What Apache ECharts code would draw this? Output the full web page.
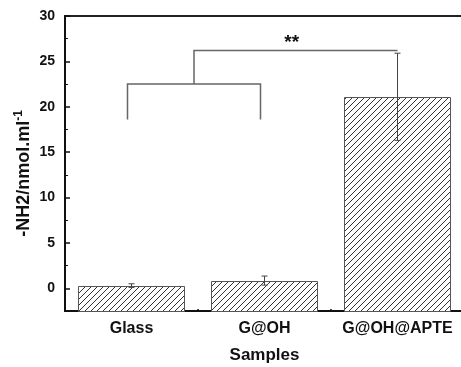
<!DOCTYPE html>
<html>
<head>
<meta charset="utf-8">
<script src="https://cdn.jsdelivr.net/npm/echarts@6/dist/echarts.min.js"></script>
<style>html,body{margin:0;padding:0;background:#fff}#c{width:461px;height:367px}</style>
</head>
<body>
<div id="c"></div>
<script>
// ---- data ----
const categories = ['Glass', 'G@OH', 'G@OH@APTE'];
const means = [0.3, 0.85, 21.1];
const errors = [0.2, 0.5, 4.8];
const yMin = -2.5, yMax = 30;
const yMajorTicks = [0, 5, 10, 15, 20, 25, 30];
const yMinorTicks = [-2.5, 2.5, 7.5, 12.5, 17.5, 22.5, 27.5];
// significance brackets: [top value, leg bottom value]
const lowerBracket = [22.5, 18.6];   // spans Glass .. G@OH
const upperBracket = [26.2];         // spans lower bracket middle .. G@OH@APTE
const sigLabel = '**';
const sigLabelValue = 27.0;

// ---- hatch pattern ----
function hatch() {
  const s = 6;
  const c = document.createElement('canvas');
  c.width = s; c.height = s;
  const g = c.getContext('2d');
  g.fillStyle = '#fff'; g.fillRect(0, 0, s, s);
  g.strokeStyle = '#333'; g.lineWidth = 1;
  g.beginPath();
  g.moveTo(0, s); g.lineTo(s, 0);
  g.moveTo(-1, 1); g.lineTo(1, -1);
  g.moveTo(s - 1, s + 1); g.lineTo(s + 1, s - 1);
  g.stroke();
  return c;
}
const hatchImg = hatch();

const barData = categories.map((c, i) => [i, means[i]]);
const errData = categories.map((c, i) => [i, means[i] - errors[i], means[i] + errors[i]]);

const chart = echarts.init(document.getElementById('c'), null, {renderer: 'canvas'});
const font = 'Liberation Sans, Arial, sans-serif';

chart.setOption({
  animation: false,
  backgroundColor: '#fff',
  grid: {left: 65, top: 16, width: 399, bottom: 56, outerBoundsMode: 'none', containLabel: false,
    show: true, borderColor: '#222', borderWidth: 2, backgroundColor: 'transparent'},
  xAxis: [{
    type: 'category',
    data: categories,
    axisLine: {onZero: false, lineStyle: {color: '#111', width: 2}},
    axisTick: {alignWithLabel: true, length: 4, lineStyle: {color: '#111', width: 1.5}},
    axisLabel: {interval: 0, hideOverlap: false, color: '#111', fontFamily: font, fontWeight: 'bold', fontSize: 16, margin: 10},
    name: 'Samples', nameLocation: 'middle', nameGap: 36,
    nameTextStyle: {color: '#111', fontFamily: font, fontWeight: 'bold', fontSize: 17}
  }, {
    type: 'category',
    data: categories,
    position: 'bottom',
    axisLine: {show: false, onZero: false},
    axisTick: {show: true, inside: true, length: 2, lineStyle: {color: '#111', width: 1.5}},
    axisLabel: {show: false}
  }],
  yAxis: [{
    type: 'value',
    min: yMin, max: yMax,
    splitLine: {show: false},
    axisLine: {show: true, lineStyle: {color: '#111', width: 2}},
    axisTick: {show: true, inside: true, length: 5, customValues: yMajorTicks, lineStyle: {color: '#111', width: 1.5}},
    axisLabel: {customValues: yMajorTicks, color: '#111', fontFamily: font, fontWeight: 'bold', fontSize: 14, margin: 10},
    name: '-NH2/nmol.ml{sup|-1}', nameLocation: 'middle', nameGap: 30, nameRotate: 90, nameMoveOverlap: false,
    nameTextStyle: {color: '#111', fontFamily: font, fontWeight: 'bold', fontSize: 18, padding: [0, 20, 0, 0],
      rich: {sup: {fontFamily: font, fontWeight: 'bold', fontSize: 12, verticalAlign: 'top', padding: [0, 0, 10, 0]}}}
  }, {
    type: 'value',
    min: yMin, max: yMax,
    position: 'left',
    splitLine: {show: false},
    axisLine: {show: false},
    axisTick: {show: true, inside: true, length: 3, customValues: yMinorTicks, lineStyle: {color: '#111', width: 1}},
    axisLabel: {show: false}
  }],
  series: [{
    type: 'custom',
    data: barData,
    z: 3,
    renderItem: function (params, api) {
      const top = api.coord([api.value(0), api.value(1)]);
      const base = api.coord([api.value(0), yMin]);
      const w = api.size([1, 0])[0] * 0.8;
      return {type: 'rect',
        shape: {x: Math.round(top[0] - w / 2) + 0.5, y: Math.round(top[1]) + 0.5, width: Math.round(w), height: Math.round(base[1] - top[1])},
        style: {fill: {image: hatchImg, repeat: 'repeat'}, stroke: '#555', lineWidth: 1}};
    }
  }, {
    type: 'custom',
    data: errData,
    z: 5,
    renderItem: function (params, api) {
      const lo = api.coord([api.value(0), api.value(1)]);
      const hi = api.coord([api.value(0), api.value(2)]);
      const w = 3;
      const st = {stroke: '#444', lineWidth: 1};
      return {type: 'group', children: [
        {type: 'line', shape: {x1: lo[0], y1: lo[1], x2: hi[0], y2: hi[1]}, style: st},
        {type: 'line', shape: {x1: lo[0] - w, y1: lo[1], x2: lo[0] + w, y2: lo[1]}, style: st},
        {type: 'line', shape: {x1: hi[0] - w, y1: hi[1], x2: hi[0] + w, y2: hi[1]}, style: st}
      ]};
    }
  }, {
    type: 'custom',
    data: [[0]],
    z: 6,
    renderItem: function (params, api) {
      const a = api.coord([0, lowerBracket[0]]);
      const b = api.coord([1, lowerBracket[0]]);
      const legB = api.coord([0, lowerBracket[1]])[1];
      const c = api.coord([2, upperBracket[0]]);
      const lab = api.coord([2, sigLabelValue]);
      const sh = -4;
      const ax = a[0] + sh, bx = b[0] + sh;
      const mid = (ax + bx) / 2;
      const st = {stroke: '#666', lineWidth: 1.5, fill: null};
      return {type: 'group', children: [
        {type: 'polyline', shape: {points: [[ax, legB], [ax, a[1]], [bx, a[1]], [bx, legB]]}, style: st},
        {type: 'polyline', shape: {points: [[mid, a[1]], [mid, c[1]], [c[0], c[1]]]}, style: st},
        {type: 'text', style: {text: sigLabel, x: (mid + c[0]) / 2 - 4, y: lab[1], align: 'center', verticalAlign: 'middle',
          font: 'bold 19px ' + font, fill: '#111'}}
      ]};
    }
  }]
});
</script>
</body>
</html>
